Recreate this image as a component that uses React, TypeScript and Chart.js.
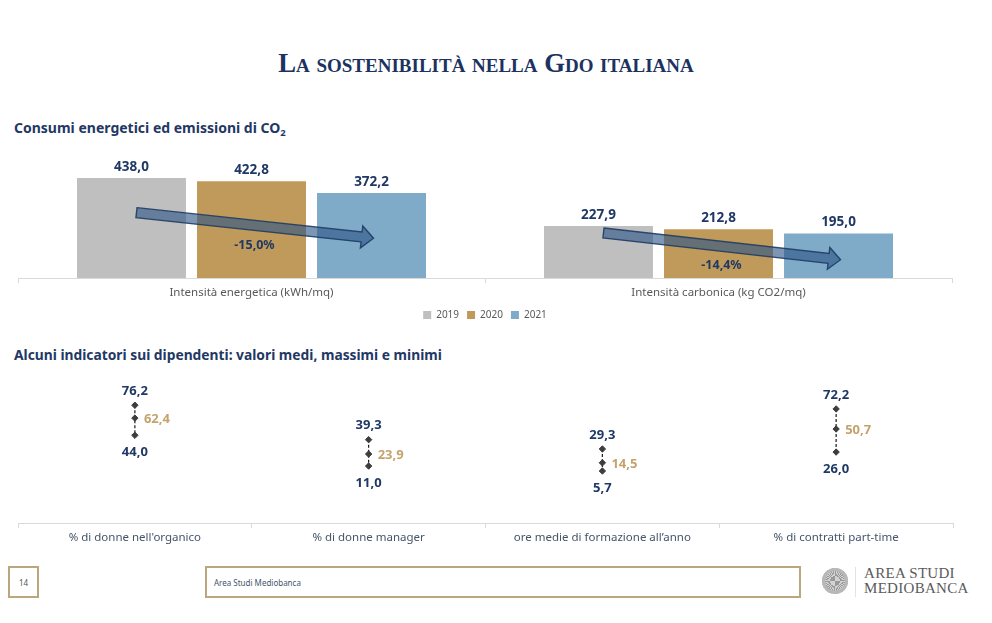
import React, { useEffect, useRef } from "react";
import { Chart, registerables } from "chart.js";

Chart.register(...registerables);

// ---------- data ----------
const energyCategories = ["Intensità energetica (kWh/mq)", "Intensità carbonica (kg CO2/mq)"];
const yearLabels = ["2019", "2020", "2021"];
const values2019 = [438.0, 227.9];
const values2020 = [422.8, 212.8];
const values2021 = [372.2, 195.0];
const changeLabels = ["-15,0%", "-14,4%"];

const staffCategories = [
  "% di donne nell'organico",
  "% di donne manager",
  "ore medie di formazione all’anno",
  "% di contratti part-time",
];
const maxValues = [76.2, 39.3, 29.3, 72.2];
const meanValues = [62.4, 23.9, 14.5, 50.7];
const minValues = [44.0, 11.0, 5.7, 26.0];

// ---------- styles ----------
const FONT = "'Noto Sans', 'DejaVu Sans', sans-serif";
const NAVY = "#1f3864";
const GOLD_TEXT = "#c4a36c";
const fmt = (v: number) => v.toFixed(1).replace(".", ",");

const barDecor = {
  id: "barDecor",
  afterDatasetsDraw(chart: any, _args: any, opts: any) {
    const ctx = chart.ctx;
    const y = chart.scales.y;
    ctx.save();
    ctx.font = `bold 13.5px ${FONT}`;
    ctx.fillStyle = NAVY;
    ctx.textAlign = "center";
    ctx.textBaseline = "middle";
    chart.data.datasets.forEach((ds: any, di: number) => {
      chart.getDatasetMeta(di).data.forEach((bar: any, i: number) => {
        ctx.fillText(fmt(ds.data[i]), bar.x, bar.y - 11);
      });
    });
    const m0 = chart.getDatasetMeta(0).data;
    const m1 = chart.getDatasetMeta(1).data;
    const m2 = chart.getDatasetMeta(2).data;
    for (let i = 0; i < m0.length; i++) {
      const x1 = m0[i].x + 5;
      const y1 = y.getPixelForValue(opts.arrowFrom[i]);
      const x2 = m2[i].x + 2;
      const y2 = y.getPixelForValue(opts.arrowTo[i]);
      const ang = Math.atan2(y2 - y1, x2 - x1);
      const L = Math.hypot(x2 - x1, y2 - y1);
      ctx.save();
      ctx.translate(x1, y1);
      ctx.rotate(ang);
      ctx.beginPath();
      ctx.moveTo(0, -5);
      ctx.lineTo(L - 12, -5);
      ctx.lineTo(L - 12, -11);
      ctx.lineTo(L, 0);
      ctx.lineTo(L - 12, 11);
      ctx.lineTo(L - 12, 5);
      ctx.lineTo(0, 5);
      ctx.closePath();
      ctx.fillStyle = "rgba(45,85,135,0.62)";
      ctx.fill();
      ctx.lineWidth = 1.4;
      ctx.strokeStyle = "rgba(32,60,98,0.9)";
      ctx.stroke();
      ctx.restore();
      ctx.font = `bold 12.5px ${FONT}`;
      ctx.fillStyle = NAVY;
      ctx.fillText(changeLabels[i], m1[i].x + 3, y.getPixelForValue(opts.labelAt[i]));
    }
    ctx.restore();
  },
};

const rangeDecor = {
  id: "rangeDecor",
  beforeDatasetsDraw(chart: any) {
    const ctx = chart.ctx;
    const hi = chart.getDatasetMeta(0).data;
    const lo = chart.getDatasetMeta(2).data;
    ctx.save();
    ctx.strokeStyle = "#1a1a1a";
    ctx.lineWidth = 1.2;
    ctx.setLineDash([3, 2]);
    for (let i = 0; i < hi.length; i++) {
      ctx.beginPath();
      ctx.moveTo(hi[i].x, hi[i].y);
      ctx.lineTo(lo[i].x, lo[i].y);
      ctx.stroke();
    }
    ctx.restore();
  },
  afterDatasetsDraw(chart: any) {
    const ctx = chart.ctx;
    const ds = chart.data.datasets;
    const hi = chart.getDatasetMeta(0).data;
    const mid = chart.getDatasetMeta(1).data;
    const lo = chart.getDatasetMeta(2).data;
    ctx.save();
    ctx.font = `bold 13px ${FONT}`;
    ctx.textBaseline = "middle";
    for (let i = 0; i < hi.length; i++) {
      ctx.fillStyle = NAVY;
      ctx.textAlign = "center";
      ctx.fillText(fmt(ds[0].data[i]), hi[i].x, hi[i].y - 14);
      ctx.fillText(fmt(ds[2].data[i]), lo[i].x, lo[i].y + 17);
      ctx.fillStyle = GOLD_TEXT;
      ctx.textAlign = "left";
      ctx.fillText(fmt(ds[1].data[i]), mid[i].x + 9, mid[i].y + 1);
    }
    ctx.restore();
  },
};

export default function App() {
  const c1 = useRef<HTMLCanvasElement>(null);
  const c2 = useRef<HTMLCanvasElement>(null);

  useEffect(() => {
    const ch1 = new Chart(c1.current as HTMLCanvasElement, {
      type: "bar",
      data: {
        labels: energyCategories,
        datasets: [
          { label: yearLabels[0], data: values2019, backgroundColor: "#bfbfbf" },
          { label: yearLabels[1], data: values2020, backgroundColor: "#c09a5a" },
          { label: yearLabels[2], data: values2021, backgroundColor: "#7fabc8" },
        ],
      },
      options: {
        animation: false,
        responsive: false,
        layout: { padding: { left: 18, right: 40, top: 10, bottom: 0 } },
        datasets: { bar: { categoryPercentage: 0.771, barPercentage: 0.908 } },
        scales: {
          x: {
            grid: { display: true, drawOnChartArea: false, drawTicks: true, tickLength: 5, color: "#d9d9d9", offset: true },
            border: { color: "#d9d9d9" },
            ticks: { color: "#595959", font: { size: 11.5, family: FONT }, padding: 3 },
            afterFit: (s: any) => { s.height = 24; },
          },
          y: { display: false, min: 0, max: 560 },
        },
        plugins: {
          legend: {
            position: "bottom",
            labels: { boxWidth: 8, boxHeight: 8, color: "#595959", font: { size: 10, family: FONT }, padding: 8 },
          },
          tooltip: { enabled: false },
          barDecor: { arrowFrom: [286, 197], arrowTo: [174, 80], labelAt: [143, 54] },
        } as any,
      },
      plugins: [barDecor],
    });

    const pointStyle = {
      showLine: false,
      pointStyle: "rectRot",
      pointRadius: 3.2,
      pointBackgroundColor: "#3d3d3d",
      pointBorderColor: "#3d3d3d",
    };
    const ch2 = new Chart(c2.current as HTMLCanvasElement, {
      type: "line",
      data: {
        labels: staffCategories,
        datasets: [
          { label: "Massimo", data: maxValues, ...pointStyle },
          { label: "Medio", data: meanValues, ...pointStyle },
          { label: "Minimo", data: minValues, ...pointStyle },
        ] as any,
      },
      options: {
        animation: false,
        responsive: false,
        layout: { padding: { left: 18, right: 39, top: 13, bottom: 0 } },
        scales: {
          x: {
            offset: true,
            grid: { display: true, drawOnChartArea: false, drawTicks: true, tickLength: 5, color: "#d9d9d9", offset: true },
            border: { color: "#d9d9d9" },
            ticks: { color: "#44546a", font: { size: 11.5, family: FONT }, padding: 3 },
            afterFit: (s: any) => { s.height = 30; },
          },
          y: { display: false, min: -50, max: 100 },
        },
        plugins: { legend: { display: false }, tooltip: { enabled: false } },
      },
      plugins: [rangeDecor],
    });

    return () => {
      ch1.destroy();
      ch2.destroy();
    };
  }, []);

  const abs = (s: React.CSSProperties): React.CSSProperties => ({ position: "absolute", ...s });

  return (
    <div style={abs({ left: 0, top: 0, width: 992, height: 623, background: "#fff", overflow: "hidden", fontFamily: FONT })}>
      <div
        style={abs({
          left: 0, top: 48, width: 972, textAlign: "center",
          fontFamily: "'Liberation Serif', 'DejaVu Serif', serif", fontWeight: "bold",
          fontSize: 26.7, lineHeight: "30px", fontVariant: "small-caps", color: "#1c3260",
        })}
      >
        La sostenibilità nella Gdo italiana
      </div>

      <div style={abs({ left: 14, top: 120, fontSize: 14, lineHeight: "16px", fontWeight: "bold", color: NAVY, whiteSpace: "nowrap" })}>
        Consumi energetici ed emissioni di CO<sub style={{ fontSize: 9.5, verticalAlign: "-3px" }}>2</sub>
      </div>
      <canvas ref={c1} width={992} height={190} style={abs({ left: 0, top: 140 })} />

      <div style={abs({ left: 14, top: 347, fontSize: 13.8, lineHeight: "16px", fontWeight: "bold", color: NAVY, whiteSpace: "nowrap" })}>
        Alcuni indicatori sui dipendenti: valori medi, massimi e minimi
      </div>
      <canvas ref={c2} width={992} height={183} style={abs({ left: 0, top: 370 })} />

      {/* footer */}
      <div style={abs({ left: 8, top: 566, width: 27, height: 28, border: "2px solid #bba77e", fontSize: 8, color: "#555", display: "flex", alignItems: "center", justifyContent: "center" })}>
        14
      </div>
      <div style={abs({ left: 205, top: 566, width: 585, height: 28, border: "2px solid #bba77e", fontSize: 8, color: "#44546a", display: "flex", alignItems: "center", paddingLeft: 7, boxSizing: "content-box" })}>
        Area Studi Mediobanca
      </div>
      <div
        style={abs({
          left: 822, top: 568, width: 26, height: 26, borderRadius: "50%",
          background: "repeating-conic-gradient(#9a9a9a 0deg 6deg, #d2d2d2 6deg 12deg)",
          boxShadow: "inset 0 0 0 3px #b8b8b8",
        })}
      />
      <div style={abs({ left: 855, top: 567, width: 1, height: 30, background: "#e3e3e3" })} />
      <div style={abs({ left: 864, top: 566, fontFamily: "'Liberation Serif', serif", fontSize: 15, lineHeight: "15px", color: "#5a5a5a", letterSpacing: 0.3, whiteSpace: "nowrap" })}>
        AREA STUDI
        <br />
        MEDIOBANCA
      </div>
    </div>
  );
}
